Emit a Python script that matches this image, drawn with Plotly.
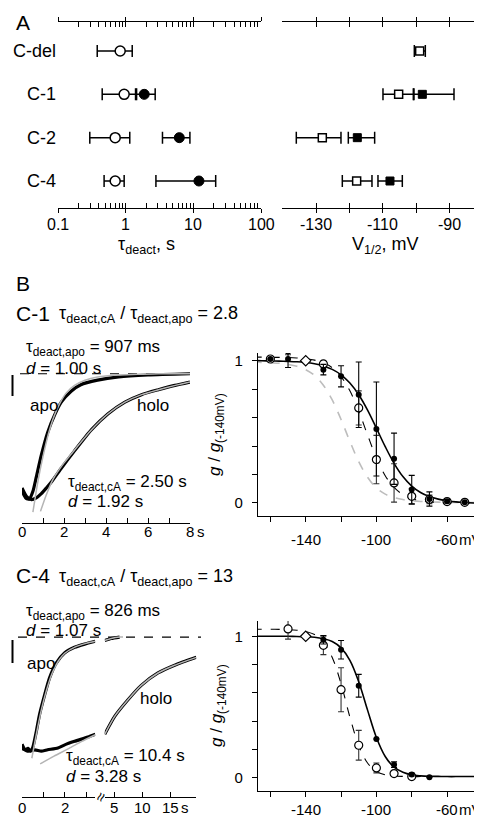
import math
import plotly.graph_objects as go

W, H = 482, 818
FONT = "Liberation Sans, Arial, sans-serif"

# ---------------- Panel A data ----------------
rows = ["C-del", "C-1", "C-2", "C-4"]

tau_apo_rows = ["C-del", "C-1", "C-2", "C-4"]
tau_apo = [0.83, 0.95, 0.70, 0.70]
tau_apo_lo = [0.38, 0.45, 0.295, 0.48]
tau_apo_hi = [1.25, 1.40, 1.15, 0.95]

tau_holo_rows = ["C-1", "C-2", "C-4"]
tau_holo = [1.88, 6.2, 12.1]
tau_holo_lo = [1.45, 3.5, 2.8]
tau_holo_hi = [2.73, 8.9, 21.4]

v_apo_rows = ["C-del", "C-1", "C-2", "C-4"]
v_apo = [-99.0, -105.3, -128.2, -117.9]
v_apo_lo = [-100.6, -110.0, -136.0, -122.2]
v_apo_hi = [-97.3, -100.7, -122.6, -113.3]

v_holo_rows = ["C-1", "C-2", "C-4"]
v_holo = [-98.2, -117.7, -107.9]
v_holo_lo = [-100.9, -120.4, -111.5]
v_holo_hi = [-88.7, -112.5, -104.2]

tau_ticks = [0.1, 1, 10, 100]
tau_ticktext = ["0.1", "1", "10", "100"]
tau_minor = [m * d for d in (0.1, 1, 10) for m in range(2, 10)]
v_ticks = [-130, -120, -110, -100, -90]
v_ticktext = ["-130", "", "-110", "", "-90"]

# ---------------- Panel B: current traces (time s, normalised g) ----------------
c1_apo_t = [0, 0.1, 0.2, 0.35, 0.52, 0.68, 0.92, 1.23, 1.55, 1.87, 2.34, 2.8, 3.6, 4.6, 6.0, 8.0]
c1_apo_g = [0.10, 0.06, 0.035, 0.03, 0.09, 0.2, 0.37, 0.55, 0.68, 0.78, 0.865, 0.915, 0.95, 0.975, 0.99, 1.0]
c1_apo_fit_t = [0.52, 0.75, 1.0, 1.25, 1.5, 1.8, 2.1, 2.5, 3.0, 3.6, 4.5, 5.5, 6.5, 8.0]
c1_apo_fit_g = [-0.07, 0.16, 0.36, 0.53, 0.66, 0.77, 0.85, 0.91, 0.95, 0.975, 0.99, 0.995, 1.0, 1.0]
c1_holo_t = [0, 0.21, 0.45, 0.68, 0.92, 1.16, 1.4, 1.88, 2.51, 3.31, 4.1, 4.9, 5.69, 6.49, 7.28, 8.0]
c1_holo_g = [0.116, 0.052, 0.026, 0.039, 0.072, 0.116, 0.162, 0.27, 0.405, 0.567, 0.69, 0.78, 0.838, 0.876, 0.91, 0.936]
c1_holo_fit_t = [0.88, 1.15, 1.5, 2.0, 2.5, 3.3, 4.1, 4.9, 5.7, 6.5, 7.3, 8.0]
c1_holo_fit_g = [-0.065, 0.06, 0.19, 0.31, 0.41, 0.565, 0.69, 0.78, 0.838, 0.876, 0.91, 0.936]

c4_apo_t_a = [0, 0.15, 0.28, 0.4, 0.51, 0.67, 0.82, 1.06, 1.29, 1.6, 1.99, 2.46, 2.93, 3.43]
c4_apo_g_a = [0.24, 0.2, 0.21, 0.19, 0.22, 0.33, 0.45, 0.59, 0.71, 0.815, 0.887, 0.927, 0.95, 0.97]
c4_apo_t_b = [3.35, 4.5, 6.0]
c4_apo_g_b = [0.975, 0.99, 1.0]
c4_apo_fit_t_a = [0.46, 0.67, 0.9, 1.14, 1.4, 1.7, 2.0, 2.5, 3.0, 3.43]
c4_apo_fit_g_a = [0.14, 0.31, 0.48, 0.62, 0.74, 0.83, 0.885, 0.93, 0.955, 0.97]
c4_apo_fit_t_b = [3.35, 4.5, 6.0, 6.6]
c4_apo_fit_g_b = [0.975, 0.99, 1.0, 1.0]
c4_holo_t_a = [0, 0.3, 0.6, 0.9, 1.2, 1.68, 2.0, 2.46, 3.08, 3.43]
c4_holo_g_a = [0.21, 0.19, 0.2, 0.19, 0.2, 0.213, 0.235, 0.26, 0.29, 0.31]
c4_holo_t_b = [3.35, 5.12, 7.48, 9.84, 12.8, 15.76, 19.6]
c4_holo_g_b = [0.31, 0.437, 0.555, 0.657, 0.745, 0.80, 0.856]
c4_holo_fit_t_a = [0.85, 1.5, 2.2, 2.8, 3.43]
c4_holo_fit_g_a = [0.10, 0.155, 0.21, 0.26, 0.307]
c4_holo_fit_t_b = [3.35, 5.12, 7.48, 9.84, 12.8, 15.76, 19.6]
c4_holo_fit_g_b = [0.31, 0.437, 0.555, 0.657, 0.745, 0.80, 0.856]

time_ticks_c1 = [0, 1, 2, 3, 4, 5, 6, 7, 8]
time_text_c1 = ["0", "", "2", "", "4", "", "6", "", "8"]
time_ticks_c4a = [0, 1, 2, 3]
time_text_c4a = ["0", "", "2", ""]
time_ticks_c4b = [5, 10, 15]
time_text_c4b = ["5", "10", "15"]

# ---------------- Panel B: g-V data ----------------
curve_v = [-170, -165, -160, -155, -150, -145, -140, -135, -130, -125, -120, -115, -110,
           -105, -100, -95, -90, -85, -80, -75, -70, -65, -60, -55, -50, -45, -40]
c1_holo_curve = [1.0, 1.0, 0.998, 0.997, 0.995, 0.992, 0.987, 0.978, 0.963, 0.939, 0.901, 0.843, 0.761,
                 0.653, 0.526, 0.396, 0.279, 0.186, 0.119, 0.074, 0.045, 0.027, 0.016, 0.008, 0.004, 0.0, -0.004]
c1_apo_curve = [1.025, 1.025, 1.024, 1.023, 1.022, 1.019, 1.014, 1.004, 0.985, 0.95, 0.888, 0.788, 0.646,
                0.478, 0.318, 0.192, 0.109, 0.059, 0.031, 0.016, 0.008, 0.004, 0.002, 0.001, 0.0, 0.0, 0.0]
c1_ref_curve = [0.989, 0.988, 0.985, 0.982, 0.974, 0.961, 0.937, 0.896, 0.827, 0.724, 0.587, 0.433, 0.291,
                0.181, 0.106, 0.062, 0.038, 0.024, 0.016, 0.011, 0.008, 0.006, 0.005, 0.004, 0.003, 0.003, 0.003]
c4_holo_curve = [1.0, 1.0, 1.0, 1.0, 1.0, 0.999, 0.997, 0.993, 0.983, 0.963, 0.918, 0.83, 0.679,
                 0.479, 0.286, 0.152, 0.076, 0.04, 0.022, 0.015, 0.012, 0.011, 0.01, 0.01, 0.01, 0.01, 0.01]
c4_apo_curve = [1.05, 1.05, 1.05, 1.049, 1.047, 1.043, 1.034, 1.012, 0.96, 0.851, 0.665, 0.43, 0.23,
                0.106, 0.046, 0.022, 0.014, 0.011, 0.01, 0.01, 0.01, 0.01, 0.01, 0.01, 0.01, 0.01, 0.01]

c1_holo_v = [-160, -150, -130, -120, -110, -100, -90, -80, -70, -60, -50]
c1_holo_g_pts = [1.012, 1.012, 0.937, 0.89, 0.761, 0.52, 0.311, 0.094, 0.028, 0.012, 0.005]
c1_holo_err = [0.0, 0.06, 0.037, 0.074, 0.23, 0.33, 0.18, 0.1, 0.05, 0.012, 0.0]
c1_apo_v = [-160, -150, -140, -130, -110, -100, -90, -80, -70, -60, -50]
c1_apo_g_pts = [1.012, 1.077, 1.0, 0.977, 0.668, 0.305, 0.141, 0.047, 0.025, 0.01, 0.005]
c1_apo_err = [0.0, 0.035, 0.0, 0.02, 0.12, 0.17, 0.135, 0.055, 0.03, 0.01, 0.0]

c4_holo_v = [-130, -120, -110, -100, -90, -80, -70]
c4_holo_g_pts = [0.976, 0.905, 0.651, 0.275, 0.094, 0.024, 0.005]
c4_holo_err = [0.03, 0.065, 0.08, 0.0, 0.02, 0.01, 0.0]
c4_apo_v = [-150, -140, -130, -120, -110, -100, -90, -80]
c4_apo_g_pts = [1.052, 1.0, 0.936, 0.623, 0.231, 0.071, 0.031, 0.01]
c4_apo_err = [0.072, 0.0, 0.065, 0.155, 0.105, 0.035, 0.01, 0.005]

mv_ticks = [-160, -140, -120, -100, -80, -60]
mv_text = ["", "-140", "", "-100", "", "-60"]
g_ticks = [0, 0.2, 0.4, 0.6, 0.8, 1.0]
g_text = ["0", "", "", "", "", "1"]


# ---------------- helpers ----------------
def dx(x0, x1):
    return [x0 / W, x1 / W]


def dy(top, bottom):
    return [1 - bottom / H, 1 - top / H]


def px(x):
    return x / W


def py(y):
    return 1 - y / H


def ann(text, x, y, size=17, xanchor="left", yanchor="middle", **kw):
    return dict(text=text, x=px(x), y=py(y), xref="paper", yref="paper", showarrow=False,
                xanchor=xanchor, yanchor=yanchor,
                font=dict(size=size, family=FONT, color="black"), **kw)


def tick_anns(xref, vals, texts, y, size=15, log=False):
    out = []
    for v, t in zip(vals, texts):
        if not t:
            continue
        out.append(dict(text=t, x=math.log10(v) if log else v, xref=xref, y=py(y), yref="paper",
                        showarrow=False, xanchor="center", yanchor="middle",
                        font=dict(size=size, family=FONT, color="black")))
    return out


fig = go.Figure()
row_y = {r: i for i, r in enumerate(rows)}


def err_plus(v, hi):
    return [h - a for a, h in zip(v, hi)]


def err_minus(v, lo):
    return [a - l for a, l in zip(v, lo)]


# ---------------- Panel A traces ----------------
fig.add_trace(go.Scatter(
    x=tau_apo, y=[row_y[r] for r in tau_apo_rows], mode="markers", xaxis="x", yaxis="y",
    marker=dict(symbol="circle", size=10, color="white", line=dict(color="black", width=1.5)),
    error_x=dict(type="data", symmetric=False, array=err_plus(tau_apo, tau_apo_hi),
                 arrayminus=err_minus(tau_apo, tau_apo_lo), color="black", thickness=1.5, width=6),
    showlegend=False, hoverinfo="skip"))
fig.add_trace(go.Scatter(
    x=tau_holo, y=[row_y[r] for r in tau_holo_rows], mode="markers", xaxis="x", yaxis="y",
    marker=dict(symbol="circle", size=10, color="black", line=dict(color="black", width=1)),
    error_x=dict(type="data", symmetric=False, array=err_plus(tau_holo, tau_holo_hi),
                 arrayminus=err_minus(tau_holo, tau_holo_lo), color="black", thickness=1.5, width=6),
    showlegend=False, hoverinfo="skip"))
fig.add_trace(go.Scatter(
    x=v_apo, y=[row_y[r] for r in v_apo_rows], mode="markers", xaxis="x3", yaxis="y2",
    marker=dict(symbol="square", size=8, color="white", line=dict(color="black", width=1.5)),
    error_x=dict(type="data", symmetric=False, array=err_plus(v_apo, v_apo_hi),
                 arrayminus=err_minus(v_apo, v_apo_lo), color="black", thickness=1.5, width=6),
    showlegend=False, hoverinfo="skip"))
fig.add_trace(go.Scatter(
    x=v_holo, y=[row_y[r] for r in v_holo_rows], mode="markers", xaxis="x3", yaxis="y2",
    marker=dict(symbol="square", size=8, color="black", line=dict(color="black", width=1)),
    error_x=dict(type="data", symmetric=False, array=err_plus(v_holo, v_holo_hi),
                 arrayminus=err_minus(v_holo, v_holo_lo), color="black", thickness=1.5, width=6),
    showlegend=False, hoverinfo="skip"))
# empty traces so that the overlay axes (crossing ticks) exist
fig.add_trace(go.Scatter(x=[], y=[], xaxis="x2", yaxis="y", showlegend=False, hoverinfo="skip"))
fig.add_trace(go.Scatter(x=[], y=[], xaxis="x4", yaxis="y2", showlegend=False, hoverinfo="skip"))

# ---------------- Panel B traces ----------------
BLACK_W = 3.2
GRAY = "#b4b4b4"


def trace_line(x, y, xa, ya, color, width):
    fig.add_trace(go.Scatter(x=x, y=y, mode="lines", xaxis=xa, yaxis=ya,
                             line=dict(color=color, width=width, shape="spline", smoothing=0.6),
                             showlegend=False, hoverinfo="skip"))


trace_line(c1_apo_t, c1_apo_g, "x5", "y3", "black", BLACK_W)
trace_line(c1_holo_t, c1_holo_g, "x5", "y3", "black", BLACK_W)
trace_line(c1_apo_fit_t, c1_apo_fit_g, "x5", "y3", GRAY, 1.5)
trace_line(c1_holo_fit_t, c1_holo_fit_g, "x5", "y3", GRAY, 1.5)

trace_line(c4_apo_t_a, c4_apo_g_a, "x7", "y5", "black", BLACK_W)
trace_line(c4_holo_t_a, c4_holo_g_a, "x7", "y5", "black", BLACK_W)
trace_line(c4_apo_t_b, c4_apo_g_b, "x8", "y5", "black", BLACK_W)
trace_line(c4_holo_t_b, c4_holo_g_b, "x8", "y5", "black", BLACK_W)
trace_line(c4_apo_fit_t_a, c4_apo_fit_g_a, "x7", "y5", GRAY, 1.5)
trace_line(c4_holo_fit_t_a, c4_holo_fit_g_a, "x7", "y5", GRAY, 1.5)
trace_line(c4_apo_fit_t_b, c4_apo_fit_g_b, "x8", "y5", GRAY, 1.5)
trace_line(c4_holo_fit_t_b, c4_holo_fit_g_b, "x8", "y5", GRAY, 1.5)


def gv_panel(xa, ya, apo_curve, holo_curve, apo_v, apo_g, apo_e, holo_v, holo_g, holo_e, ref_curve=None):
    if ref_curve is not None:
        fig.add_trace(go.Scatter(x=curve_v, y=ref_curve, mode="lines", xaxis=xa, yaxis=ya,
                                 line=dict(color="#bdbdbd", width=1.6, dash="dash", shape="spline"),
                                 showlegend=False, hoverinfo="skip"))
    fig.add_trace(go.Scatter(x=curve_v, y=apo_curve, mode="lines", xaxis=xa, yaxis=ya,
                             line=dict(color="black", width=1.1, dash="dash", shape="spline"),
                             showlegend=False, hoverinfo="skip"))
    fig.add_trace(go.Scatter(x=curve_v, y=holo_curve, mode="lines", xaxis=xa, yaxis=ya,
                             line=dict(color="black", width=1.6, shape="spline"),
                             showlegend=False, hoverinfo="skip"))
    symbols = ["diamond" if v == -140 else "circle" for v in apo_v]
    fig.add_trace(go.Scatter(x=apo_v, y=apo_g, mode="markers", xaxis=xa, yaxis=ya,
                             marker=dict(symbol=symbols, size=8, color="white",
                                         line=dict(color="black", width=1.2)),
                             error_y=dict(type="data", array=apo_e, color="#333333", thickness=1.1, width=3),
                             showlegend=False, hoverinfo="skip"))
    fig.add_trace(go.Scatter(x=holo_v, y=holo_g, mode="markers", xaxis=xa, yaxis=ya,
                             marker=dict(symbol="circle", size=6, color="black"),
                             error_y=dict(type="data", array=holo_e, color="black", thickness=1.1, width=3),
                             showlegend=False, hoverinfo="skip"))


gv_panel("x6", "y4", c1_apo_curve, c1_holo_curve, c1_apo_v, c1_apo_g_pts, c1_apo_err,
         c1_holo_v, c1_holo_g_pts, c1_holo_err, ref_curve=c1_ref_curve)
gv_panel("x9", "y6", c4_apo_curve, c4_holo_curve, c4_apo_v, c4_apo_g_pts, c4_apo_err,
         c4_holo_v, c4_holo_g_pts, c4_holo_err)

# ---------------- Axes ----------------
AX = dict(showgrid=False, zeroline=False, showline=True, linecolor="black", linewidth=1.3,
          tickcolor="black", tickwidth=1.3, automargin=False, showticklabels=False,
          tickfont=dict(size=16, family=FONT, color="black"))
HIDE_Y = dict(visible=False, showgrid=False, zeroline=False, automargin=False)

rows_range = [3.623, -0.669]

layout_axes = dict(
    xaxis=dict(AX, domain=dx(50, 253), type="log", range=[-1, 2], anchor="y",
               ticks="outside", ticklen=4, tickvals=tau_ticks, mirror="ticks"),
    xaxis2=dict(AX, type="log", range=[-1, 2], anchor="y", overlaying="x",
                ticks="inside", ticklen=5, tickvals=tau_ticks, mirror="ticks",
                minor=dict(ticks="inside", ticklen=5, tickvals=tau_minor, tickcolor="black", tickwidth=1.2)),
    yaxis=dict(HIDE_Y, domain=dy(14, 200), range=rows_range, anchor="x"),
    xaxis3=dict(AX, domain=dx(274.3, 476), range=[-140.2, -79.7], anchor="y2",
                ticks="outside", ticklen=4, tickvals=v_ticks, mirror="ticks"),
    xaxis4=dict(AX, range=[-140.2, -79.7], anchor="y2", overlaying="x3",
                ticks="inside", ticklen=5, tickvals=v_ticks, mirror="ticks"),
    yaxis2=dict(HIDE_Y, domain=dy(14, 200), range=rows_range, anchor="x3"),
    xaxis5=dict(AX, domain=dx(14, 182), range=[0, 8], anchor="y3", ticks="inside", ticklen=5,
                tickvals=time_ticks_c1),
    yaxis3=dict(HIDE_Y, domain=dy(355, 515), range=[-0.155, 1.083], anchor="x5"),
    xaxis6=dict(AX, domain=dx(250, 470), range=[-167, -42.5], anchor="y4", ticks="outside", ticklen=5,
                tickvals=mv_ticks),
    yaxis4=dict(AX, domain=dy(345, 508.3), range=[-0.0935, 1.054], anchor="x6", ticks="outside", ticklen=5,
                tickvals=g_ticks, ticktext=g_text, showticklabels=True, ticklabelstandoff=6,
                tickfont=dict(size=15, family=FONT, color="black")),
    xaxis7=dict(AX, domain=dx(14, 87.3), range=[0, 3.43], anchor="y5", ticks="inside", ticklen=5,
                tickvals=time_ticks_c4a),
    xaxis8=dict(AX, domain=dx(96.7, 188.3), range=[3.35, 19.6], anchor="y5", ticks="inside", ticklen=5,
                tickvals=time_ticks_c4b),
    yaxis5=dict(HIDE_Y, domain=dy(612, 789), range=[-0.135, 1.121], anchor="x7"),
    xaxis9=dict(AX, domain=dx(250, 470), range=[-167, -42.5], anchor="y6", ticks="outside", ticklen=5,
                tickvals=mv_ticks),
    yaxis6=dict(AX, domain=dy(613, 783.3), range=[-0.094, 1.108], anchor="x9", ticks="outside", ticklen=5,
                tickvals=g_ticks, ticktext=g_text, showticklabels=True, ticklabelstandoff=6,
                tickfont=dict(size=15, family=FONT, color="black")),
)

# ---------------- Annotations ----------------
anns = [
    ann("A", 6, 14, size=21),
    ann("B", 6, 275, size=21),
    ann("τ<sub>deact</sub>, s", 138, 238, size=18, xanchor="center"),
    ann("V<sub>1/2</sub>, mV", 377, 238, size=18, xanchor="center"),
]
anns += tick_anns("x", tau_ticks, tau_ticktext, 216, size=16, log=True)
anns += tick_anns("x3", v_ticks, v_ticktext, 216, size=16)
anns += tick_anns("x5", time_ticks_c1, time_text_c1, 523, size=15)
anns += tick_anns("x7", time_ticks_c4a, time_text_c4a, 799, size=15)
anns += tick_anns("x8", time_ticks_c4b, time_text_c4b, 799, size=15)
anns += tick_anns("x6", mv_ticks, mv_text, 531, size=15)
anns += tick_anns("x9", mv_ticks, mv_text, 801, size=15)

row_label_y = [43, 86.3, 129.7, 173]
for r, yy in zip(rows, row_label_y):
    anns.append(ann(r, 50, yy, size=18, xanchor="right"))

gtitle = "<i>g</i> / <i>g</i><sub>(-140mV)</sub>"
anns += [
    ann("C-1", 6, 305, size=21),
    ann("τ<sub>deact,cA</sub> / τ<sub>deact,apo</sub> = 2.8", 49, 307, size=18),
    ann("τ<sub>deact,apo</sub> = 907 ms", 16, 340, size=17),
    ann("<i>d</i> = 1.00 s", 16, 360, size=17),
    ann("apo", 20, 397, size=17),
    ann("holo", 127, 397, size=17),
    ann("τ<sub>deact,cA</sub> = 2.50 s", 58, 475, size=17),
    ann("<i>d</i> = 1.92 s", 58, 493, size=17),
    ann("s", 193, 523, size=15, xanchor="center"),
    ann("mV", 462, 531, size=15, xanchor="center"),
    ann(gtitle, 208, 427, size=17, xanchor="center", textangle=-90),

    ann("C-4", 6, 567, size=21),
    ann("τ<sub>deact,cA</sub> / τ<sub>deact,apo</sub> = 13", 49, 569, size=18),
    ann("τ<sub>deact,apo</sub> = 826 ms", 16, 604, size=17),
    ann("<i>d</i> = 1.07 s", 16, 622, size=17),
    ann("apo", 17, 655, size=17),
    ann("holo", 130, 690, size=17),
    ann("τ<sub>deact,cA</sub> = 10.4 s", 56, 749, size=17),
    ann("<i>d</i> = 3.28 s", 56, 768, size=17),
    ann("s", 177, 799, size=15, xanchor="center"),
    ann("≈", 92, 789, size=16, xanchor="center", textangle=-65),
    ann("mV", 462, 801, size=15, xanchor="center"),
    ann(gtitle, 210, 698, size=17, xanchor="center", textangle=-90),
]

# ---------------- Shapes (reference lines, scale bars) ----------------
shapes = [
    dict(type="line", xref="paper", yref="y3", x0=px(12), x1=px(182), y0=1, y1=1,
         line=dict(color="black", width=1.2, dash="dash"), layer="below"),
    dict(type="line", xref="paper", yref="y5", x0=px(10), x1=px(193), y0=1, y1=1,
         line=dict(color="black", width=1.2, dash="dash"), layer="below"),
    dict(type="line", xref="paper", yref="paper", x0=px(4.5), x1=px(4.5), y0=py(367), y1=py(388),
         line=dict(color="black", width=2)),
    dict(type="line", xref="paper", yref="paper", x0=px(4.5), x1=px(4.5), y0=py(632), y1=py(655),
         line=dict(color="black", width=2)),
]

fig.update_layout(
    template="none",
    width=W, height=H, margin=dict(l=0, r=0, t=0, b=0, pad=0),
    paper_bgcolor="white", plot_bgcolor="white",
    font=dict(family=FONT, color="black"),
    showlegend=False, annotations=anns, shapes=shapes,
    **layout_axes,
)

fig.write_html("out.html")
